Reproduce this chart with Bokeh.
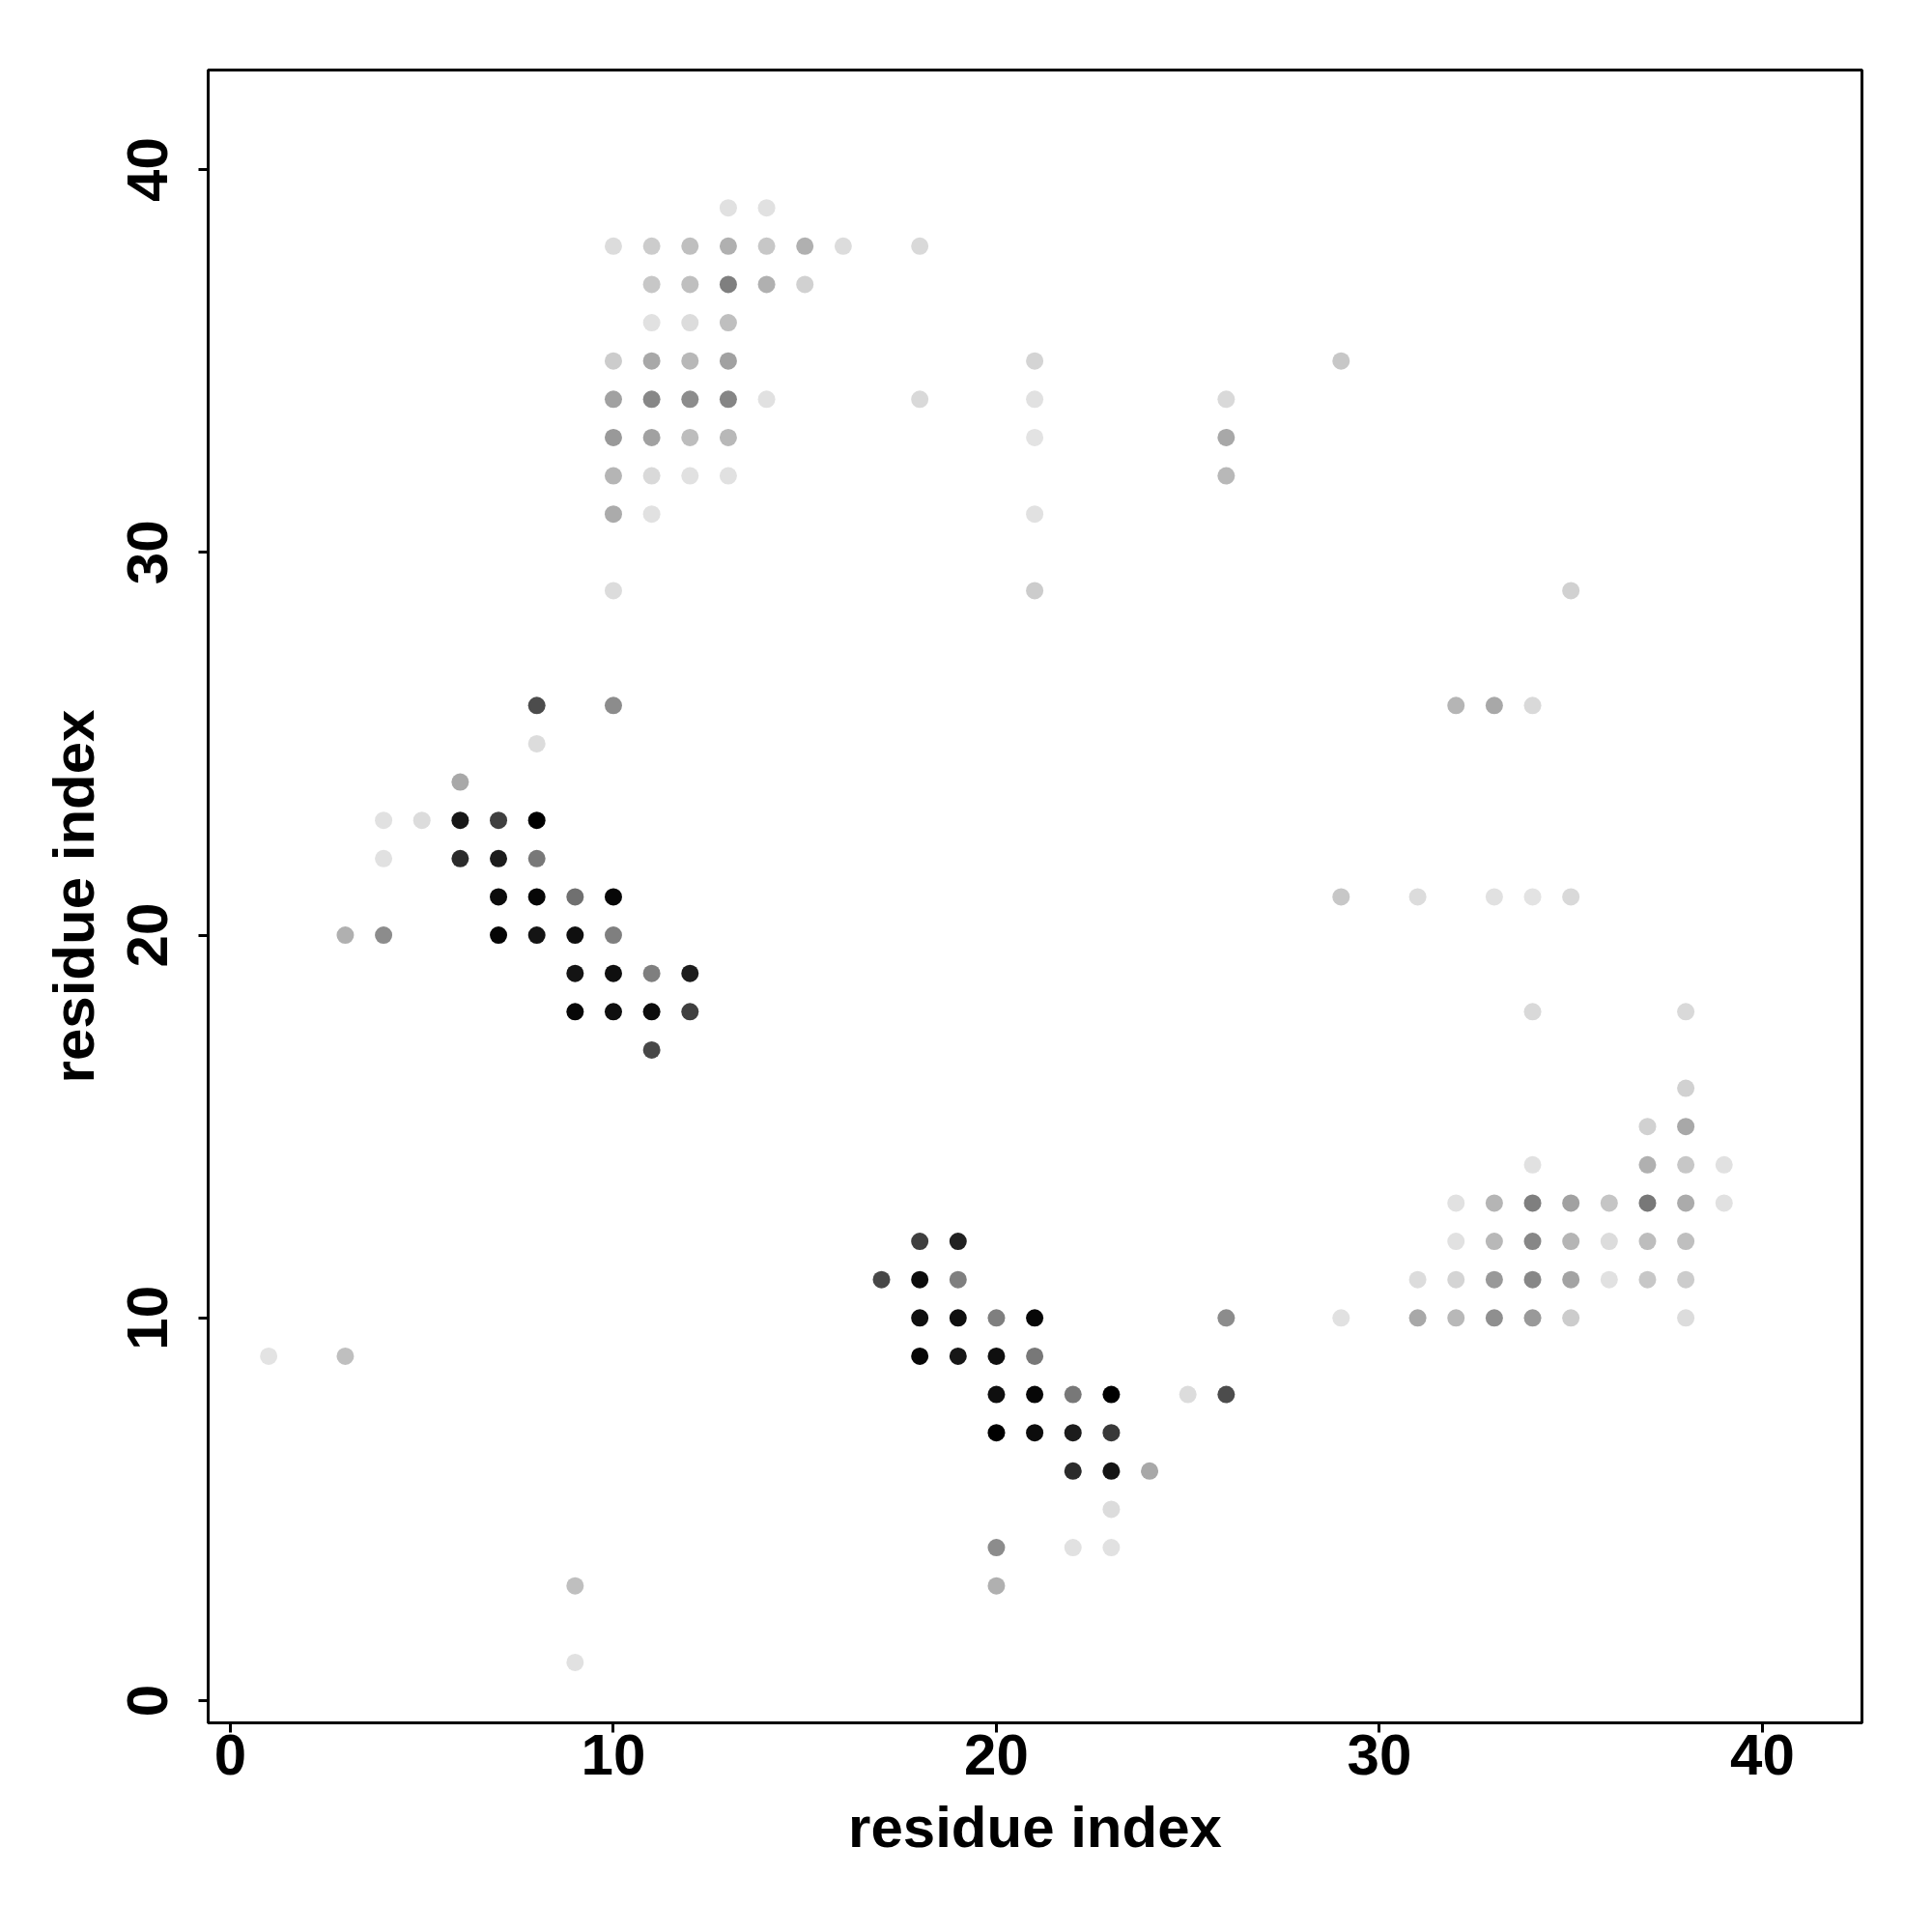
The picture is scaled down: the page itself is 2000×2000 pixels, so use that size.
from bokeh.plotting import figure
from bokeh.models import Range1d, FixedTicker, LinearColorMapper, ColumnDataSource
from bokeh.palettes import Greys256
from bokeh.embed import file_html
from bokeh.resources import INLINE

# residue pairs (i, j) and contact strength (0..1, darker = stronger)
res_i = [13, 14,
         10, 11, 12, 13, 14, 15, 16, 18,
         11, 12, 13, 14, 15,
         11, 12, 13,
         10, 11, 12, 13, 21, 29,
         10, 11, 12, 13, 14, 18, 21, 26,
         10, 11, 12, 13, 21, 26,
         10, 11, 12, 13, 26,
         10, 11, 21,
         10, 21, 35,
         8, 10, 32, 33, 34,
         8,
         6,
         4, 5, 6, 7, 8,
         4, 6, 7, 8,
         7, 8, 9, 10, 29, 31, 33, 34, 35,
         3, 4, 7, 8, 9, 10,
         9, 10, 11, 12,
         9, 10, 11, 12, 34, 38,
         11,
         38,
         37, 38,
         34, 37, 38, 39,
         32, 33, 34, 35, 36, 37, 38, 39,
         18, 19, 32, 33, 34, 35, 36, 37, 38,
         17, 18, 19, 31, 32, 33, 34, 35, 36, 37, 38,
         18, 19, 20, 21, 26, 29, 31, 32, 33, 34, 35, 38,
         1, 3, 18, 19, 20, 21,
         20, 21, 22, 23, 25, 26,
         20, 21, 22, 23,
         22, 23, 24,
         23,
         20, 22, 23,
         9, 20,
         9]

res_j = [39, 39,
         38, 38, 38, 38, 38, 38, 38, 38,
         37, 37, 37, 37, 37,
         36, 36, 36,
         35, 35, 35, 35, 35, 35,
         34, 34, 34, 34, 34, 34, 34, 34,
         33, 33, 33, 33, 33, 33,
         32, 32, 32, 32, 32,
         31, 31, 31,
         29, 29, 29,
         26, 26, 26, 26, 26,
         25,
         24,
         23, 23, 23, 23, 23,
         22, 22, 22, 22,
         21, 21, 21, 21, 21, 21, 21, 21, 21,
         20, 20, 20, 20, 20, 20,
         19, 19, 19, 19,
         18, 18, 18, 18, 18, 18,
         17,
         16,
         15, 15,
         14, 14, 14, 14,
         13, 13, 13, 13, 13, 13, 13, 13,
         12, 12, 12, 12, 12, 12, 12, 12, 12,
         11, 11, 11, 11, 11, 11, 11, 11, 11, 11, 11,
         10, 10, 10, 10, 10, 10, 10, 10, 10, 10, 10, 10,
         9, 9, 9, 9, 9, 9,
         8, 8, 8, 8, 8, 8,
         7, 7, 7, 7,
         6, 6, 6,
         5,
         4, 4, 4,
         3, 3,
         1]

strength = [0.12, 0.12,
            0.14, 0.20, 0.25, 0.31, 0.22, 0.31, 0.14, 0.15,
            0.22, 0.25, 0.50, 0.31, 0.18,
            0.12, 0.14, 0.25,
            0.20, 0.34, 0.28, 0.37, 0.17, 0.22,
            0.37, 0.47, 0.45, 0.48, 0.12, 0.15, 0.12, 0.15,
            0.40, 0.37, 0.26, 0.28, 0.11, 0.34,
            0.29, 0.15, 0.12, 0.12, 0.28,
            0.33, 0.12, 0.12,
            0.14, 0.20, 0.18,
            0.70, 0.45, 0.29, 0.34, 0.15,
            0.14,
            0.34,
            0.12, 0.14, 0.91, 0.75, 1.00,
            0.12, 0.83, 0.89, 0.53,
            0.95, 0.97, 0.56, 0.97, 0.22, 0.14, 0.12, 0.11, 0.15,
            0.31, 0.45, 0.98, 0.92, 0.94, 0.50,
            0.92, 0.94, 0.50, 0.89,
            0.97, 0.94, 0.95, 0.75, 0.15, 0.15,
            0.72,
            0.18,
            0.18, 0.34,
            0.12, 0.31, 0.22, 0.12,
            0.12, 0.29, 0.50, 0.37, 0.23, 0.53, 0.33, 0.12,
            0.75, 0.87, 0.12, 0.28, 0.47, 0.29, 0.14, 0.26, 0.25,
            0.72, 0.95, 0.50, 0.14, 0.17, 0.40, 0.47, 0.36, 0.12, 0.22, 0.20,
            0.94, 0.94, 0.50, 0.97, 0.45, 0.12, 0.34, 0.28, 0.44, 0.40, 0.20, 0.14,
            0.11, 0.25, 0.97, 0.91, 0.94, 0.53,
            0.94, 0.97, 0.53, 1.00, 0.14, 0.70,
            1.00, 0.95, 0.89, 0.78,
            0.83, 0.92, 0.34,
            0.14,
            0.45, 0.12, 0.12,
            0.25, 0.31,
            0.12]

tick_values = [0, 10, 20, 30, 40]
axis_title = "residue index"

source = ColumnDataSource(dict(i=res_i, j=res_j, s=strength))
mapper = LinearColorMapper(palette=list(Greys256)[::-1], low=0, high=1)

p = figure(frame_width=1712, frame_height=1711,
           min_border_left=215, min_border_top=72,
           min_border_right=57, min_border_bottom=201,
           x_range=Range1d(-0.58, 42.6), y_range=Range1d(-0.58, 42.6),
           output_backend="svg", toolbar_location=None)

p.scatter(x="i", y="j", source=source, size=18, marker="circle",
          fill_color={"field": "s", "transform": mapper}, line_color=None)

p.grid.visible = False
p.outline_line_color = "black"
p.outline_line_width = 3
p.background_fill_color = "white"

for ax in (p.xaxis[0], p.yaxis[0]):
    ax.ticker = FixedTicker(ticks=tick_values)
    ax.axis_line_color = None
    ax.major_tick_line_width = 3
    ax.major_tick_line_color = "black"
    ax.major_tick_out = 10
    ax.major_tick_in = 0
    ax.minor_tick_line_color = None
    ax.major_label_text_font = "Liberation Sans"
    ax.major_label_text_font_style = "bold"
    ax.major_label_text_font_size = "60px"
    ax.major_label_text_color = "black"
    ax.axis_label = axis_title
    ax.axis_label_text_font = "Liberation Sans"
    ax.axis_label_text_font_style = "bold"
    ax.axis_label_text_font_size = "60px"
    ax.axis_label_text_color = "black"

p.xaxis.major_label_standoff = 2
p.xaxis.axis_label_standoff = 18
p.yaxis.major_label_orientation = "vertical"
p.yaxis.major_label_standoff = 32
p.yaxis.axis_label_standoff = 20

open("out.html", "w").write(file_html(p, INLINE))
